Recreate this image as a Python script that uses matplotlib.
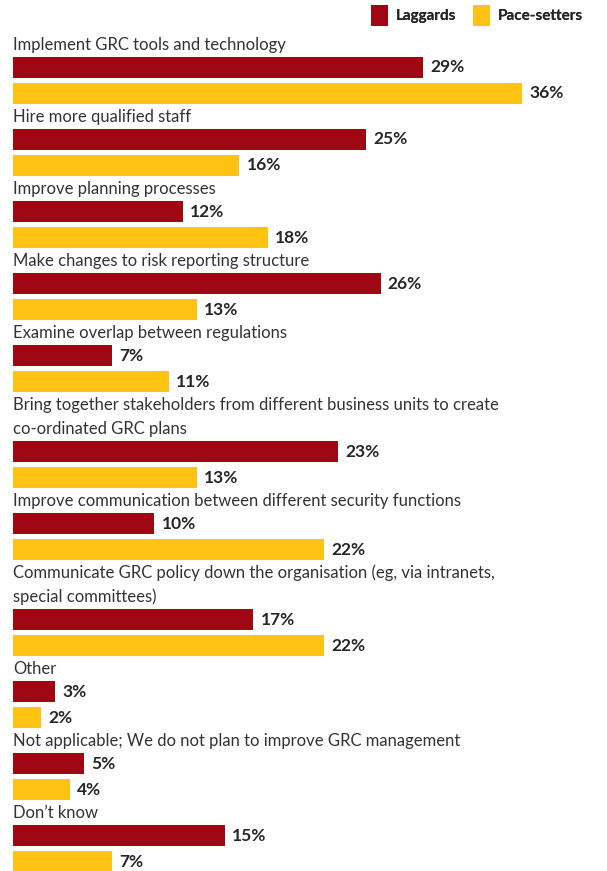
import matplotlib
matplotlib.use("Agg")
import matplotlib.pyplot as plt
from matplotlib.patches import Rectangle
from matplotlib.transforms import Affine2D

# Survey answers: what organisations plan to do to improve GRC management
categories = [
    "Implement GRC tools and technology",
    "Hire more qualified staff",
    "Improve planning processes",
    "Make changes to risk reporting structure",
    "Examine overlap between regulations",
    "Bring together stakeholders from different business units to create\nco-ordinated GRC plans",
    "Improve communication between different security functions",
    "Communicate GRC policy down the organisation (eg, via intranets,\nspecial committees)",
    "Other",
    "Not applicable; We do not plan to improve GRC management",
    "Don\u2019t know",
]
laggards = [29, 25, 12, 26, 7, 23, 10, 17, 3, 5, 15]
pace_setters = [36, 16, 18, 13, 11, 13, 22, 22, 2, 4, 7]
series_names = ["Laggards", "Pace-setters"]

RED = "#9E0812"
YELLOW = "#FDC212"
TEXT = "#333333"
VALUE = "#262626"
FONT = "Lato"

W, H = 607, 871
fig = plt.figure(figsize=(W / 100, H / 100), dpi=100)
ax = fig.add_axes([0, 0, 1, 1])

# x axis in percent, y axis in layout rows (pixels from the top)
left_px, px_per_pct = 13, (522 - 13) / 36
ax.set_xlim(-left_px / px_per_pct, (W - left_px) / px_per_pct)
ax.set_ylim(H, 0)
ax.axis("off")

line_h, bar_h, bar_pitch = 24, 21, 26
top = 33
for cat, lag, pace in zip(categories, laggards, pace_setters):
    lines = cat.split("\n")
    for i, ln in enumerate(lines):
        ax.text(0, top + 12 + line_h * i, ln, fontsize=12, family=FONT,
                color=TEXT, va="center", ha="left")
    y_red = top + line_h * len(lines) + bar_h / 2
    y_yel = y_red + bar_pitch
    ax.barh([y_red, y_yel], [lag, pace], height=bar_h, left=0,
            color=[RED, YELLOW], linewidth=0)
    for y, v in ((y_red, lag), (y_yel, pace)):
        ax.annotate(f"{v}%", (v, y), xytext=(5.2, 0), textcoords="offset points",
                    fontsize=12.5, family=FONT, fontweight="bold",
                    color=VALUE, va="center", ha="left")
    top += line_h * len(lines) + 2 * bar_pitch - 4

# Legend in pixel coordinates, top right
px = Affine2D().scale(1, -1).translate(0, H)
legend_items = [(371, RED, series_names[0]), (473, YELLOW, series_names[1])]
for x0, col, name in legend_items:
    fig.patches.append(Rectangle((x0, 5), 17, 21, facecolor=col,
                                 edgecolor="none", transform=px))
    fig.texts.append(fig.text(x0 + 25, 15.5, name, transform=px, fontsize=11,
                              family=FONT, fontweight="bold", color=VALUE,
                              va="center", ha="left"))

fig.savefig("out.png", dpi=100, facecolor="white")
